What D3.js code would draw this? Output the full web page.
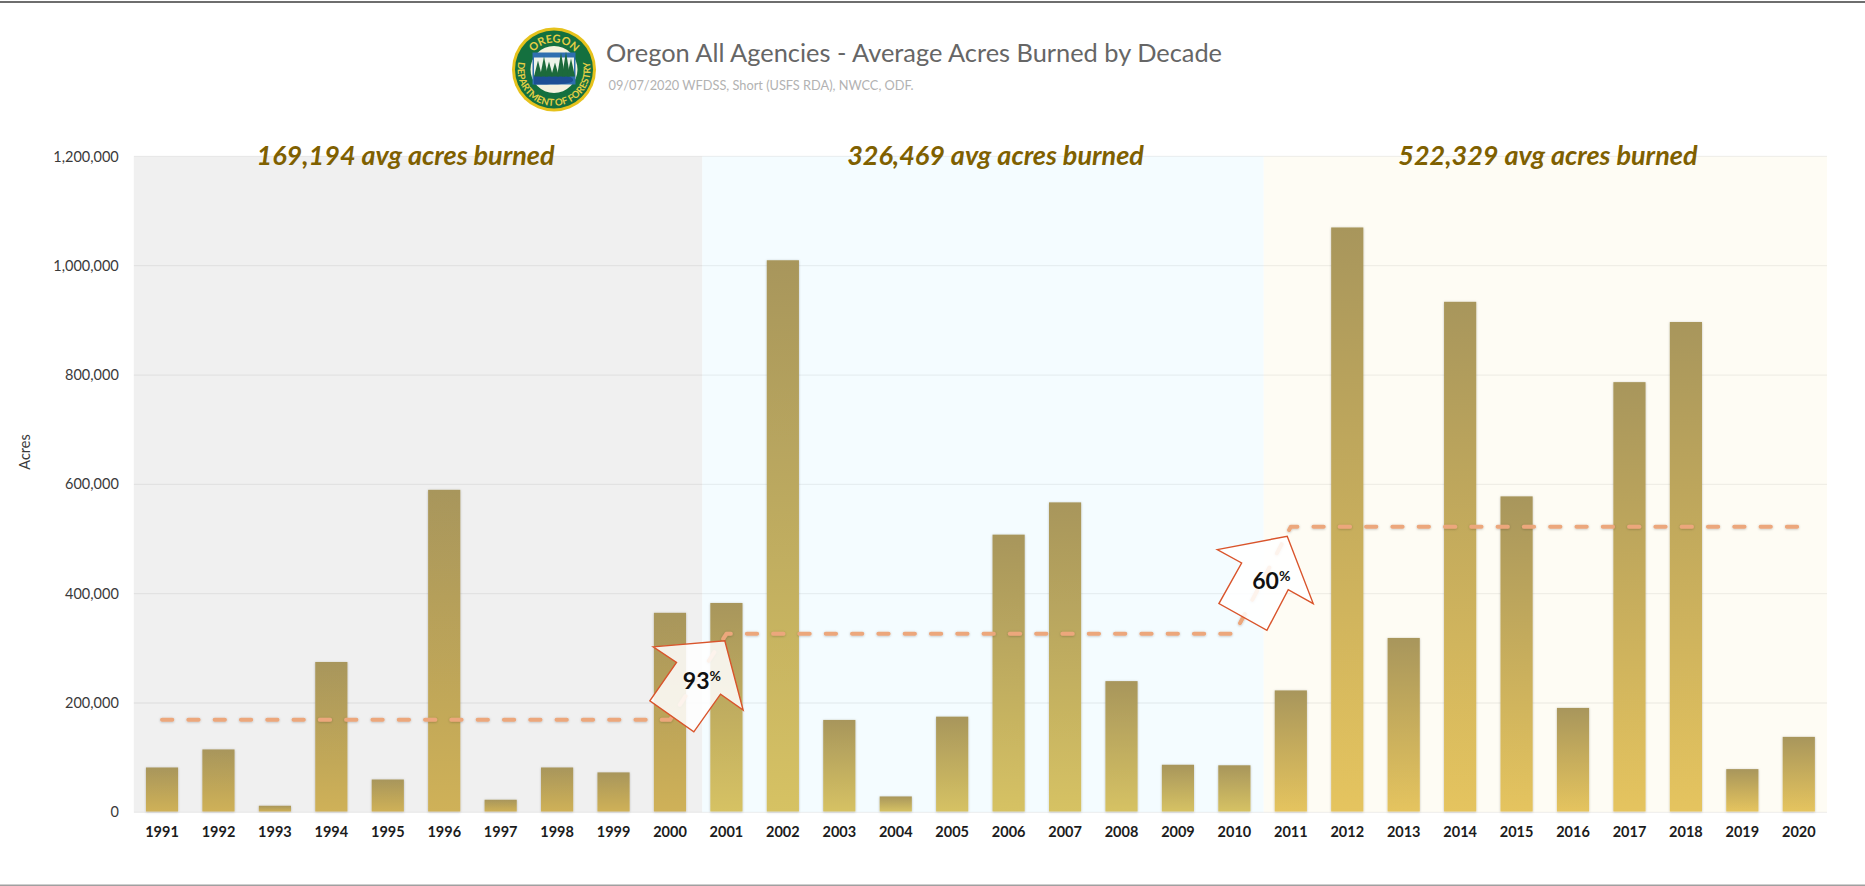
<!DOCTYPE html>
<html>
<head>
<meta charset="utf-8">
<script src="https://cdnjs.cloudflare.com/ajax/libs/d3/7.8.5/d3.min.js"></script>
<style>
  html, body { margin: 0; padding: 0; background: #fff; }
  svg { display: block; }
  text { font-family: Lato, "Open Sans", sans-serif; }
</style>
</head>
<body>
<svg id="chart" width="1865" height="886"></svg>
<script>
// values
var years = ["1991","1992","1993","1994","1995","1996","1997","1998","1999","2000",
             "2001","2002","2003","2004","2005","2006","2007","2008","2009","2010",
             "2011","2012","2013","2014","2015","2016","2017","2018","2019","2020"];
var acres = [82000,115000,12000,275000,60000,590000,23000,82000,73000,365000,
             383000,1010000,169000,29000,175000,508000,567000,240000,87000,86000,
             223000,1070000,319000,934000,578000,191000,787000,897000,79000,138000];
var decadeAverages = [169194, 326469, 522329];
var decadeLabels = ["169,194 avg acres burned", "326,469 avg acres burned", "522,329 avg acres burned"];
var yTicks = [0, 200000, 400000, 600000, 800000, 1000000, 1200000];
var increases = ["93", "60"];

var svg = d3.select("#chart"),
    margin = {top: 156.4, right: 38, bottom: 73.7, left: 133.8},
    width = 1865 - margin.left - margin.right,
    height = 886 - margin.top - margin.bottom,
    defs = svg.append("defs");

var x = d3.scaleBand().domain(years).range([margin.left, margin.left + width]).paddingInner(0.43).paddingOuter(0.215);
var y = d3.scaleLinear().domain([0, 1200000]).range([margin.top + height, margin.top]);

var decadeOf = function(i) { return Math.floor(i / 10); };
var center = function(yr) { return x(yr) + x.bandwidth() / 2; };

//frame lines top and bottom
svg.append("rect").attr("x", 0).attr("y", 1).attr("width", 1865).attr("height", 2).attr("fill", "#6e6e6e");
svg.append("rect").attr("x", 0).attr("y", 884.5).attr("width", 1865).attr("height", 1.5).attr("fill", "#a0a0a0");

//filters and gradients
var shadow = defs.append("filter").attr("id", "shadow").attr("x", "-20%").attr("y", "-20%").attr("width", "140%").attr("height", "140%");
shadow.append("feDropShadow").attr("dx", 0).attr("dy", 0.5).attr("stdDeviation", 1).attr("flood-color", "#000").attr("flood-opacity", 0.25);

var bottomColors = ["#cfb158", "#d6c264", "#e5c45e"];
bottomColors.forEach(function(c, i) {
    var g = defs.append("linearGradient").attr("id", "bar" + i).attr("x1", 0).attr("y1", 0).attr("x2", 0).attr("y2", 1);
    g.append("stop").attr("offset", "0%").attr("stop-color", "#a8965b");
    g.append("stop").attr("offset", "100%").attr("stop-color", c);
});

//decade backgrounds
var bandEdges = [margin.left, x("2001") - 8, x("2011") - 11, margin.left + width];
var bandFills = ["#f0f0f0", "#f4fcff", "#fefcf4"];
svg.append("g").selectAll("rect").data(bandFills).enter().append("rect")
    .attr("x", function(d, i) { return bandEdges[i]; })
    .attr("y", margin.top)
    .attr("width", function(d, i) { return bandEdges[i + 1] - bandEdges[i]; })
    .attr("height", height)
    .attr("fill", function(d) { return d; });

//gridlines
svg.append("g").selectAll("line").data(yTicks).enter().append("line")
    .attr("x1", margin.left).attr("x2", margin.left + width)
    .attr("y1", function(d) { return y(d); }).attr("y2", function(d) { return y(d); })
    .attr("stroke", "#000").attr("stroke-opacity", 0.055).attr("stroke-width", 1.3);

//bars
svg.append("g").selectAll("rect").data(acres).enter().append("rect")
    .attr("x", function(d, i) { return x(years[i]); })
    .attr("y", function(d) { return y(d); })
    .attr("width", x.bandwidth())
    .attr("height", function(d) { return y(0) - y(d) - 0.8; })
    .attr("fill", function(d, i) { return "url(#bar" + decadeOf(i) + ")"; })
    .attr("filter", "url(#shadow)");

//dashed average line, one point per year
var avgLine = d3.line()
    .x(function(d) { return center(d); })
    .y(function(d) { return y(decadeAverages[decadeOf(years.indexOf(d))]); });

svg.append("path")
    .datum(years)
    .attr("fill", "none")
    .attr("stroke", "#eca77c")
    .attr("stroke-width", 4)
    .attr("stroke-linecap", "round")
    .attr("stroke-linejoin", "round")
    .style("stroke-dasharray", "10.3, 16")
    .attr("filter", "url(#shadow)")
    .attr("d", avgLine);

//axes
var yAxis = svg.append("g")
    .attr("transform", "translate(" + (margin.left - 15) + ",0)")
    .call(d3.axisLeft(y).tickValues(yTicks).tickSize(0).tickPadding(0).tickFormat(d3.format(",")));
yAxis.select(".domain").remove();
yAxis.selectAll("text").attr("font-size", 14.5).attr("fill", "#3a3a3a").style("font-family", "Lato");

var xAxis = svg.append("g")
    .attr("transform", "translate(0," + y(0) + ")")
    .call(d3.axisBottom(x).tickSize(0).tickPadding(14));
xAxis.select(".domain").remove();
xAxis.selectAll("text").attr("font-size", 14.5).attr("font-weight", 700).attr("fill", "#1c1c1c").style("font-family", "Lato");

svg.append("text")
    .attr("transform", "translate(30,452) rotate(-90)")
    .attr("text-anchor", "middle")
    .attr("font-size", 14.5)
    .attr("fill", "#3a3a3a")
    .text("Acres");

//decade labels, centred on their band with a small shift
var labelShift = [-12.5, 12.5, 2.5];
svg.append("g").selectAll("text").data(decadeLabels).enter().append("text")
    .attr("x", function(d, i) { return (bandEdges[i] + bandEdges[i + 1]) / 2 + labelShift[i]; })
    .attr("y", 165)
    .attr("text-anchor", "middle")
    .attr("font-size", 27)
    .attr("font-weight", 700)
    .attr("font-style", "italic")
    .attr("fill", "#7f6000")
    .text(function(d) { return d; });

//increase arrows, outline is relative to the tip
var arrowShapes = [
    [[-71.7,6],[0,0],[18.3,69.3],[-4.3,53.3],[-31,91],[-75,60],[-48.3,21.6]],
    [[-70,13.3],[0,0],[26,67.3],[1,53.3],[-20.3,94],[-68.3,67.3],[-45.6,26.7]]
];
var arrowTips = [
    {year: "2001", avg: decadeAverages[1], dx: -1.6, dy: 7},
    {year: "2011", avg: decadeAverages[2], dx: -3.6, dy: 9.5}
];
var arrowText = [[-42, 48.5], [-35, 53]];

arrowShapes.forEach(function(shape, i) {
    var tipX = center(arrowTips[i].year) + arrowTips[i].dx,
        tipY = y(arrowTips[i].avg) + arrowTips[i].dy,
        g = svg.append("g").attr("transform", "translate(" + tipX + "," + tipY + ")");

    g.append("polygon")
        .attr("points", shape.join(" "))
        .attr("fill", "#fff")
        .attr("fill-opacity", 0.86)
        .attr("stroke", "#d9542b")
        .attr("stroke-width", 1.4)
        .attr("stroke-linejoin", "miter");

    var t = g.append("text")
        .attr("x", arrowText[i][0])
        .attr("y", arrowText[i][1])
        .attr("font-size", 23)
        .attr("font-weight", 700)
        .attr("fill", "#111");
    t.append("tspan").text(increases[i]);
    t.append("tspan").attr("font-size", 14).attr("dy", -8).text("%");
});

//title block
svg.append("text")
    .attr("x", 606).attr("y", 62)
    .attr("font-size", 25.5)
    .attr("fill", "#666")
    .attr("textLength", 616)
    .attr("lengthAdjust", "spacingAndGlyphs")
    .text("Oregon All Agencies - Average Acres Burned by Decade");

svg.append("text")
    .attr("x", 608.5).attr("y", 90)
    .attr("font-size", 13)
    .attr("fill", "#b2b2b2")
    .attr("textLength", 305)
    .attr("lengthAdjust", "spacingAndGlyphs")
    .text("09/07/2020 WFDSS, Short (USFS RDA), NWCC, ODF.");

//logo
var logo = svg.append("g").attr("transform", "translate(554,69.5)");
logo.append("circle").attr("r", 42).attr("fill", "#e6c21c");
logo.append("circle").attr("r", 39).attr("fill", "#14703f");
logo.append("circle").attr("r", 23.5).attr("fill", "#f5f2df");
logo.append("rect").attr("x", -21.5).attr("y", -17).attr("width", 43).attr("height", 32).attr("fill", "#2f6fb0");
logo.append("rect").attr("x", -20).attr("y", -12).attr("width", 40).attr("height", 18).attr("fill", "#eef3ea");
logo.append("path").attr("d", d3.line().curve(d3.curveBasis)([[-20,7],[-8,3],[8,4],[20,8],[20,15],[-20,15]])).attr("fill", "#1d4f95");
var treeX = [-16, -10, -5, 1, 7, 12, 17];
var treeH = [16, 20, 15, 14, 24, 25, 18];
logo.append("g").selectAll("path").data(treeX).enter().append("path")
    .attr("d", function(d, i) { return "M" + (d - 4) + ",7L" + d + "," + (7 - treeH[i]) + "L" + (d + 4) + ",7Z"; })
    .attr("fill", "#1c6a3c");
defs.append("path").attr("id", "logoTop").attr("d", "M-27,0A27,27 0 0 1 27,0");
defs.append("path").attr("id", "logoBottom").attr("d", "M-35.5,-8A36.4,36.4 0 1 0 35.5,-8");
logo.append("text").attr("font-size", 11).attr("font-weight", 700).attr("fill", "#e6cf45").attr("text-anchor", "middle")
    .append("textPath").attr("href", "#logoTop").attr("startOffset", "50%").text("OREGON");
logo.append("text").attr("font-size", 9.6).attr("font-weight", 700).attr("fill", "#e6cf45").attr("text-anchor", "middle")
    .append("textPath").attr("href", "#logoBottom").attr("startOffset", "50%").text("DEPARTMENT OF FORESTRY");
</script>
</body>
</html>
